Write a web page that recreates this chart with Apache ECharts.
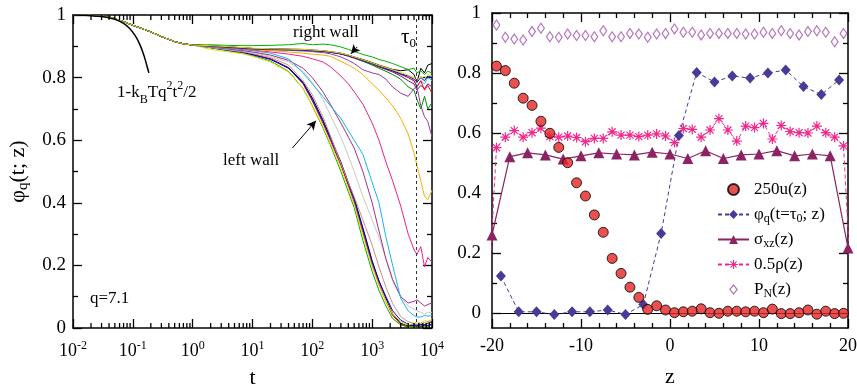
<!DOCTYPE html>
<html>
<head>
<meta charset="utf-8">
<script src="https://cdn.jsdelivr.net/npm/echarts@6/dist/echarts.min.js"></script>
<style>
  html, body { margin: 0; padding: 0; background: #fff; }
  #chart { width: 857px; height: 388px; }
</style>
</head>
<body>
<div id="chart"></div>
<script>
// ---- left panel: phi_q(t; z) for the z slices ----
// short times: all slices lie on top of each other
var tEarly = [0.01, 0.02, 0.04, 0.07, 0.1, 0.15, 0.2, 0.3, 0.5, 0.7, 1];
var phiEarly = [1.0, 0.999, 0.994, 0.979, 0.967, 0.955, 0.946, 0.931, 0.915, 0.908, 0.904];
// later times, one row per slice
var tLate = [2, 4, 7, 10, 20, 40, 70, 100, 150, 200, 300, 400, 500, 700, 1000, 1300, 1700, 2200, 3000, 4000, 5000, 5600, 6500, 7500, 8500, 10000];
var zSlices = [-19, -17, -15, -13, -11, -9, -7, -5, -3, -1, 1, 3, 5, 7, 9, 11, 13, 15, 17, 19];
var phiSlices = [
  [0.896,0.888,0.880,0.874,0.860,0.832,0.785,0.735,0.665,0.610,0.530,0.465,0.415,0.320,0.215,0.150,0.095,0.045,0.015,0.006,0.010,0.008,0.012,0.010,0.015,0.020],
  [0.897,0.889,0.882,0.875,0.860,0.830,0.780,0.725,0.655,0.600,0.520,0.455,0.400,0.305,0.200,0.140,0.085,0.040,0.012,0.004,0.003,0.006,0.004,0.008,0.005,0.012],
  [0.895,0.885,0.877,0.870,0.853,0.820,0.765,0.710,0.640,0.585,0.500,0.435,0.385,0.280,0.180,0.120,0.070,0.030,0.010,0.003,0.005,0.004,0.006,0.004,0.008,0.010],
  [0.896,0.887,0.880,0.873,0.858,0.830,0.782,0.730,0.660,0.606,0.525,0.460,0.410,0.315,0.210,0.150,0.100,0.055,0.025,0.012,0.008,0.010,0.006,0.010,0.008,0.012],
  [0.890,0.882,0.876,0.868,0.850,0.818,0.765,0.710,0.645,0.590,0.510,0.445,0.395,0.295,0.195,0.135,0.085,0.045,0.020,0.010,0.015,0.020,0.015,0.025,0.020,0.030],
  [0.896,0.888,0.882,0.877,0.864,0.840,0.790,0.745,0.675,0.615,0.525,0.465,0.420,0.345,0.265,0.195,0.130,0.078,0.036,0.020,0.015,0.012,0.015,0.018,0.020,0.025],
  [0.897,0.890,0.885,0.880,0.868,0.850,0.820,0.785,0.730,0.680,0.610,0.550,0.500,0.420,0.345,0.290,0.220,0.150,0.100,0.070,0.060,0.055,0.050,0.045,0.050,0.050],
  [0.898,0.891,0.886,0.882,0.872,0.855,0.830,0.800,0.755,0.715,0.655,0.610,0.575,0.500,0.400,0.310,0.220,0.155,0.100,0.080,0.085,0.090,0.080,0.070,0.075,0.080],
  [0.899,0.893,0.889,0.886,0.878,0.860,0.815,0.780,0.740,0.710,0.670,0.630,0.600,0.555,0.465,0.400,0.290,0.200,0.095,0.055,0.040,0.035,0.035,0.040,0.038,0.040],
  [0.900,0.895,0.891,0.888,0.882,0.875,0.868,0.860,0.850,0.835,0.805,0.780,0.755,0.715,0.655,0.600,0.530,0.470,0.390,0.300,0.250,0.235,0.260,0.195,0.225,0.210],
  [0.900,0.896,0.893,0.890,0.886,0.882,0.878,0.875,0.872,0.868,0.852,0.840,0.830,0.810,0.780,0.760,0.735,0.710,0.670,0.620,0.560,0.520,0.470,0.420,0.410,0.440],
  [0.901,0.897,0.894,0.892,0.890,0.889,0.888,0.886,0.884,0.881,0.875,0.868,0.862,0.852,0.842,0.834,0.826,0.818,0.805,0.790,0.780,0.760,0.775,0.765,0.780,0.770],
  [0.900,0.896,0.893,0.891,0.889,0.887,0.885,0.883,0.880,0.876,0.866,0.855,0.845,0.825,0.815,0.810,0.795,0.770,0.750,0.740,0.765,0.770,0.710,0.675,0.660,0.610],
  [0.902,0.898,0.895,0.893,0.891,0.890,0.889,0.887,0.885,0.882,0.877,0.871,0.865,0.856,0.846,0.838,0.831,0.824,0.815,0.800,0.790,0.775,0.790,0.780,0.800,0.790],
  [0.901,0.897,0.894,0.892,0.890,0.889,0.888,0.886,0.884,0.881,0.876,0.870,0.864,0.853,0.840,0.830,0.820,0.810,0.795,0.770,0.760,0.730,0.700,0.740,0.700,0.720],
  [0.902,0.898,0.895,0.893,0.892,0.891,0.890,0.888,0.886,0.883,0.878,0.872,0.866,0.858,0.848,0.840,0.833,0.826,0.822,0.825,0.810,0.785,0.830,0.815,0.840,0.845],
  [0.902,0.898,0.895,0.893,0.891,0.890,0.889,0.887,0.885,0.882,0.877,0.871,0.865,0.856,0.845,0.835,0.828,0.820,0.810,0.800,0.790,0.770,0.790,0.760,0.775,0.750],
  [0.905,0.903,0.902,0.902,0.903,0.905,0.909,0.905,0.907,0.905,0.898,0.890,0.884,0.874,0.866,0.858,0.852,0.845,0.835,0.826,0.830,0.815,0.822,0.810,0.820,0.815],
  [0.902,0.898,0.895,0.893,0.891,0.890,0.888,0.886,0.884,0.881,0.876,0.870,0.864,0.855,0.845,0.837,0.829,0.822,0.812,0.805,0.795,0.785,0.800,0.790,0.805,0.800],
  [0.902,0.899,0.896,0.894,0.892,0.891,0.890,0.888,0.886,0.883,0.878,0.872,0.866,0.857,0.847,0.839,0.832,0.825,0.816,0.808,0.800,0.790,0.805,0.795,0.810,0.805]
];
var sliceColors = ['#000000','#ff0000','#00b000','#0000ff','#e8e000','#c49488','#c8c8c8','#a0308c','#18b4f0','#f0208c',
                   '#f0b000','#5028a0','#9a3aa0','#30c0e0','#008800','#000000','#ff0000','#00b000','#0000ff','#e8e000'];
// short-time expansion 1 - kBT q^2 t^2 / 2
var tPara = [0.01, 0.03, 0.05, 0.07, 0.09, 0.11, 0.13, 0.15, 0.17, 0.185];
var phiPara = [1.0, 0.995, 0.986, 0.973, 0.955, 0.933, 0.907, 0.876, 0.841, 0.815];
var tau0 = 5400;
// log minor ticks
var tickDecades = [0.01, 0.1, 1, 10, 100, 1000];
var tickMantissas = [2, 3, 4, 5, 6, 7, 8, 9];

// ---- right panel: profiles across the film ----
var zHalf = [-19.5,-18.5,-17.5,-16.5,-15.5,-14.5,-13.5,-12.5,-11.5,-10.5,-9.5,-8.5,-7.5,-6.5,-5.5,-4.5,-3.5,-2.5,-1.5,-0.5,
             0.5,1.5,2.5,3.5,4.5,5.5,6.5,7.5,8.5,9.5,10.5,11.5,12.5,13.5,14.5,15.5,16.5,17.5,18.5,19.5];
var u250 = [0.823,0.808,0.766,0.716,0.692,0.639,0.599,0.552,0.501,0.434,0.390,0.327,0.269,0.182,0.132,0.086,0.052,0.012,0.024,0.010,
            0.001,0.004,0.006,0.014,0.001,-0.001,0.006,0.006,0.004,0.006,0.001,0.013,-0.002,-0.002,0.001,0.010,-0.004,0.006,-0.002,-0.001];
var rho05 = [0.551,0.586,0.608,0.586,0.601,0.616,0.588,0.586,0.590,0.585,0.571,0.582,0.582,0.604,0.593,0.593,0.588,0.593,0.597,0.590,
             0.568,0.615,0.612,0.586,0.610,0.648,0.610,0.573,0.623,0.618,0.632,0.580,0.625,0.605,0.601,0.600,0.623,0.601,0.586,0.557];
var rhoWallZ = [-20.5, 20.5];
var rhoWall = [0, 0];
var pN = [0.960,0.919,0.913,0.910,0.938,0.949,0.921,0.919,0.930,0.925,0.925,0.921,0.941,0.921,0.921,0.932,0.930,0.919,0.930,0.932,
          0.947,0.936,0.936,0.927,0.932,0.932,0.932,0.932,0.930,0.930,0.936,0.932,0.941,0.932,0.927,0.938,0.941,0.936,0.904,0.932];
var zPhi = [-19,-17,-15,-13,-11,-9,-7,-5,-3,-1,1,3,5,7,9,11,13,15,17,19];
var phiTau = [0.123,0.004,0.004,-0.005,0.004,0.004,0.010,-0.005,0.028,0.265,0.592,0.802,0.770,0.790,0.783,0.800,0.810,0.755,0.728,0.777];
var zSigma = [-20,-18,-16,-14,-12,-10,-8,-6,-4,-2,0,2,4,6,8,10,12,14,16,18,20];
var sigma = [0.260,0.521,0.534,0.527,0.513,0.524,0.534,0.530,0.527,0.536,0.530,0.515,0.541,0.515,0.527,0.530,0.541,0.524,0.530,0.524,0.217];

var FONT = 'Liberation Serif';
var subStyle = { fontFamily: FONT, fontSize: 12, lineHeight: 12, verticalAlign: 'bottom' };
var supStyle = { fontFamily: FONT, fontSize: 12, lineHeight: 12, verticalAlign: 'top' };

function pairs(xs, ys) {
  return xs.map(function (x, i) { return [x, ys[i]]; });
}

var starPath = 'path://M-0.6,-5L0.6,-5L0.6,5L-0.6,5Z M-5,-0.6L5,-0.6L5,0.6L-5,0.6Z M-3.1,-3.95L3.95,3.1L3.1,3.95L-3.95,-3.1Z M3.1,-3.95L3.95,-3.1L-3.1,3.95L-3.95,3.1Z';
var diamondOpen = 'path://M0,-5.5L4.5,0L0,5.5L-4.5,0Z M0,-3.6L-2.95,0L0,3.6L2.95,0Z';

var series = [];

phiSlices.forEach(function (vals, k) {
  series.push({
    name: 'z=' + zSlices[k],
    type: 'line',
    xAxisIndex: 0, yAxisIndex: 0,
    showSymbol: false,
    lineStyle: { color: sliceColors[k], width: 1 },
    itemStyle: { color: sliceColors[k] },
    data: pairs(tEarly, phiEarly).concat(pairs(tLate, vals)),
    z: 2
  });
});

series.push({
  name: 'short',
  type: 'line',
  xAxisIndex: 0, yAxisIndex: 0,
  showSymbol: false,
  smooth: true,
  lineStyle: { color: '#000', width: 1.5 },
  data: pairs(tPara, phiPara),
  z: 3,
  markLine: {
    silent: true,
    symbol: ['none', 'arrow'],
    symbolSize: [7, 9],
    label: { show: false },
    lineStyle: { color: '#000', width: 1, type: 'solid' },
    data: [
      [{ coord: [562, 0.898] }, { coord: [442, 0.876] }],
      [{ coord: [46.4, 0.575] }, { coord: [115, 0.662] }]
    ]
  }
});

series.push({
  name: 'tau0',
  type: 'line',
  xAxisIndex: 0, yAxisIndex: 0,
  showSymbol: false,
  data: [],
  markLine: {
    silent: true,
    symbol: 'none',
    label: { show: false },
    lineStyle: { color: '#333', width: 1, type: [3, 3] },
    data: [{ xAxis: tau0 }]
  }
});

var minorTicks = [];
tickDecades.forEach(function (d) {
  tickMantissas.forEach(function (m) { minorTicks.push([m * d, 0]); });
});
series.push({
  name: 'minor',
  type: 'custom',
  xAxisIndex: 0, yAxisIndex: 0,
  silent: true,
  z: 5,
  renderItem: function (params, api) {
    var t = api.value(0);
    var pb = api.coord([t, 0]);
    var pt = api.coord([t, 1]);
    return {
      type: 'group',
      children: [
        { type: 'line', shape: { x1: pb[0], y1: pb[1], x2: pb[0], y2: pb[1] - 5 }, style: { stroke: '#000', lineWidth: 1.3 } },
        { type: 'line', shape: { x1: pt[0], y1: pt[1], x2: pt[0], y2: pt[1] + 5 }, style: { stroke: '#000', lineWidth: 1.3 } }
      ]
    };
  },
  data: minorTicks
});

// right panel series
series.push({
  name: 'pn',
  type: 'scatter',
  xAxisIndex: 2, yAxisIndex: 2,
  symbol: diamondOpen,
  symbolSize: [10, 12],
  symbolKeepAspect: true,
  itemStyle: { color: '#a050b0' },
  data: pairs(zHalf, pN),
  z: 2
});
series.push({
  name: 'rho',
  type: 'line',
  xAxisIndex: 2, yAxisIndex: 2,
  symbol: starPath,
  symbolSize: 10,
  showAllSymbol: true,
  lineStyle: { color: '#f0288c', width: 1, type: [4, 3] },
  itemStyle: { color: '#f0288c' },
  data: [{ value: [rhoWallZ[0], rhoWall[0]], symbol: 'none' }]
    .concat(pairs(zHalf, rho05))
    .concat([{ value: [rhoWallZ[1], rhoWall[1]], symbol: 'none' }]),
  z: 3
});
series.push({
  name: 'sigma',
  type: 'line',
  xAxisIndex: 2, yAxisIndex: 2,
  symbol: 'triangle',
  symbolSize: 11,
  showAllSymbol: true,
  lineStyle: { color: '#8c2464', width: 1.2 },
  itemStyle: { color: '#8c2464' },
  data: pairs(zSigma, sigma),
  z: 4
});
series.push({
  name: 'phi',
  type: 'line',
  xAxisIndex: 2, yAxisIndex: 2,
  symbol: 'diamond',
  symbolSize: [10, 11],
  showAllSymbol: true,
  lineStyle: { color: '#4a3a98', width: 1, type: [4, 3] },
  itemStyle: { color: '#4a3a98' },
  data: pairs(zPhi, phiTau),
  z: 5
});
series.push({
  name: 'u',
  type: 'scatter',
  xAxisIndex: 2, yAxisIndex: 2,
  symbol: 'circle',
  symbolSize: 10,
  itemStyle: { color: '#e42626', borderColor: '#000', borderWidth: 1 },
  data: pairs(zHalf, u250),
  z: 6
});

var legendNames = {
  u: '250u(z)',
  phi: 'φ{sub|q}(t=τ{sub|0}; z)',
  sigma: 'σ{sub|xz}(z)',
  rho: '0.5ρ(z)',
  pn: 'P{sub|N}(z)'
};

var axisLineStyle = { color: '#000', width: 1.5 };

function frameAxisLine() {
  return { onZero: false, lineStyle: axisLineStyle };
}

var option = {
  animation: false,
  backgroundColor: '#fff',
  grid: [
    { left: 73, right: 425, top: 15, bottom: 60, outerBoundsMode: 'none' },
    { left: 492, right: 9, top: 13, bottom: 60, outerBoundsMode: 'none' },
    { left: 492, right: 9, top: 13, bottom: 75, outerBoundsMode: 'none' }
  ],
  xAxis: [
    {
      type: 'log', gridIndex: 0, logBase: 10, min: 0.01, max: 10000, position: 'bottom',
      axisLine: frameAxisLine(),
      axisTick: { inside: true, length: 9, lineStyle: { width: 1.3 } },
      splitLine: { show: false },
      axisLabel: {
        margin: 12,
        fontFamily: FONT, fontSize: 18, color: '#000', lineHeight: 22,
        formatter: function (v) { return '10{sup|' + Math.round(Math.log10(v)) + '}'; },
        rich: { sup: supStyle }
      },
      name: 't', nameLocation: 'middle', nameGap: 38,
      nameTextStyle: { fontFamily: FONT, fontSize: 22, color: '#000' }
    },
    {
      type: 'log', gridIndex: 0, logBase: 10, min: 0.01, max: 10000, position: 'top',
      axisLine: frameAxisLine(),
      axisTick: { inside: true, length: 9, lineStyle: { width: 1.3 } },
      splitLine: { show: false },
      axisLabel: { show: false }
    },
    {
      type: 'value', gridIndex: 1, min: -20, max: 20, interval: 10, position: 'bottom',
      axisLine: frameAxisLine(),
      axisTick: { inside: true, length: 9, lineStyle: { width: 1.3 } },
      minorTick: { show: true, splitNumber: 5, length: 5, lineStyle: { color: '#000', width: 1.3 } },
      splitLine: { show: false },
      axisLabel: { margin: 9, fontFamily: FONT, fontSize: 18, color: '#000' },
      name: 'z', nameLocation: 'middle', nameGap: 38,
      nameTextStyle: { fontFamily: FONT, fontSize: 22, color: '#000' }
    },
    {
      type: 'value', gridIndex: 1, min: -20, max: 20, interval: 10, position: 'top',
      axisLine: frameAxisLine(),
      axisTick: { inside: true, length: 9, lineStyle: { width: 1.3 } },
      minorTick: { show: true, splitNumber: 5, length: 5, lineStyle: { color: '#000', width: 1.3 } },
      splitLine: { show: false },
      axisLabel: { show: false }
    },
    {
      type: 'value', gridIndex: 2, min: -20, max: 20, position: 'bottom',
      axisLine: { onZero: false, lineStyle: { color: '#000', width: 1 } },
      axisTick: { show: false },
      splitLine: { show: false },
      axisLabel: { show: false }
    }
  ],
  yAxis: [
    {
      type: 'value', gridIndex: 0, min: 0, max: 1, interval: 0.2, position: 'left',
      axisLine: frameAxisLine(),
      axisTick: { inside: true, length: 9, lineStyle: { width: 1.3 } },
      minorTick: { show: true, splitNumber: 2, length: 5, lineStyle: { color: '#000', width: 1.3 } },
      splitLine: { show: false },
      axisLabel: { margin: 7, fontFamily: FONT, fontSize: 19, color: '#000' },
      name: 'φ{sub|q}(t; z)', nameLocation: 'middle', nameGap: 42, nameRotate: 90,
      nameTextStyle: {
        fontFamily: FONT, fontSize: 22, color: '#000', lineHeight: 26,
        rich: { sub: { fontFamily: FONT, fontSize: 15, lineHeight: 15, verticalAlign: 'bottom' } }
      }
    },
    {
      type: 'value', gridIndex: 0, min: 0, max: 1, interval: 0.2, position: 'right',
      axisLine: frameAxisLine(),
      axisTick: { inside: true, length: 9, lineStyle: { width: 1.3 } },
      minorTick: { show: true, splitNumber: 2, length: 5, lineStyle: { color: '#000', width: 1.3 } },
      splitLine: { show: false },
      axisLabel: { show: false }
    },
    {
      type: 'value', gridIndex: 1, min: -0.05, max: 1, position: 'left',
      axisLine: frameAxisLine(),
      axisTick: { show: false }, splitLine: { show: false }, axisLabel: { show: false }
    },
    {
      type: 'value', gridIndex: 1, min: -0.05, max: 1, position: 'right',
      axisLine: frameAxisLine(),
      axisTick: { show: false }, splitLine: { show: false }, axisLabel: { show: false }
    },
    {
      type: 'value', gridIndex: 2, min: 0, max: 1, interval: 0.2, position: 'left',
      axisLine: { show: false, onZero: false },
      axisTick: { inside: true, length: 9, lineStyle: { width: 1.3, color: '#000' } },
      minorTick: { show: true, splitNumber: 2, length: 5, lineStyle: { color: '#000', width: 1.3 } },
      splitLine: { show: false },
      axisLabel: { margin: 11, fontFamily: FONT, fontSize: 19, color: '#000' }
    },
    {
      type: 'value', gridIndex: 2, min: 0, max: 1, interval: 0.2, position: 'right',
      axisLine: { show: false, onZero: false },
      axisTick: { inside: true, length: 9, lineStyle: { width: 1.3, color: '#000' } },
      minorTick: { show: true, splitNumber: 2, length: 5, lineStyle: { color: '#000', width: 1.3 } },
      splitLine: { show: false },
      axisLabel: { show: false }
    }
  ],
  legend: {
    data: ['u', 'phi', 'sigma', 'rho', 'pn'],
    orient: 'vertical',
    left: 712, top: 174,
    itemWidth: 31, itemHeight: 11, itemGap: 4,
    symbolKeepAspect: true,
    selectedMode: false,
    formatter: function (name) { return legendNames[name]; },
    textStyle: {
      fontFamily: FONT, fontSize: 17, lineHeight: 21, color: '#000',
      rich: { sub: subStyle }
    }
  },
  graphic: [
    { type: 'text', left: 293, top: 24, style: { text: 'right wall', font: '17px "Liberation Serif"', fill: '#000' } },
    { type: 'text', left: 401, top: 24, style: {
        text: 'τ{sub|0}', fill: '#000',
        rich: { sub: { font: '13px "Liberation Serif"', lineHeight: 13, verticalAlign: 'bottom' } },
        font: '21px "Liberation Serif"', lineHeight: 26 } },
    { type: 'text', left: 117, top: 80, style: {
        text: '1-k{sub|B}Tq{sup|2}t{sup|2}/2', fill: '#000',
        font: '17px "Liberation Serif"', lineHeight: 26,
        rich: {
          sub: { font: '12px "Liberation Serif"', lineHeight: 12, verticalAlign: 'bottom' },
          sup: { font: '12px "Liberation Serif"', lineHeight: 12, verticalAlign: 'top' }
        } } },
    { type: 'text', left: 223, top: 152, style: { text: 'left wall', font: '17px "Liberation Serif"', fill: '#000' } },
    { type: 'text', left: 90, top: 290, style: { text: 'q=7.1', font: '17px "Liberation Serif"', fill: '#000' } }
  ],
  series: series
};

var chart = echarts.init(document.getElementById('chart'), null, { renderer: 'canvas' });
chart.setOption(option);
</script>
</body>
</html>
